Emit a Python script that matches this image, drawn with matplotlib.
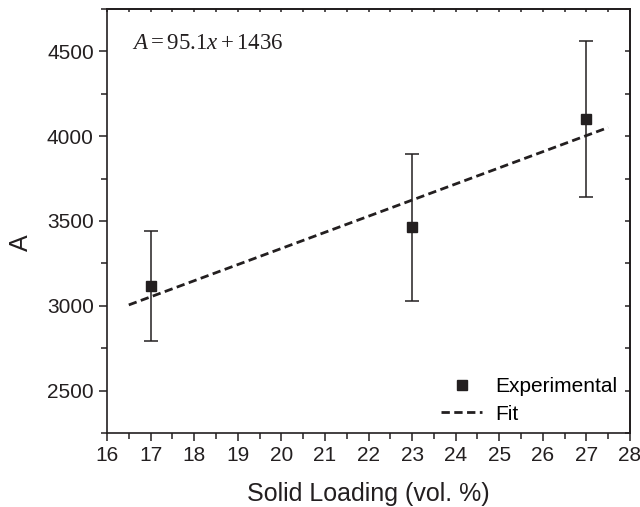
import matplotlib
matplotlib.use("Agg")
import matplotlib.pyplot as plt
import numpy as np
from matplotlib.ticker import MultipleLocator, NullFormatter
from matplotlib.lines import Line2D

plt.rcParams['font.family'] = ['Liberation Sans', 'DejaVu Sans']
plt.rcParams['mathtext.fontset'] = 'custom'
plt.rcParams['mathtext.rm'] = 'Liberation Serif'
plt.rcParams['mathtext.it'] = 'Liberation Serif:italic'

solid_loading = [17, 23, 27]
A_values = [3118, 3462, 4100]
A_errors = [325, 435, 460]
slope = 95.1
intercept = 1436
fit_x_range = [16.5, 27.5]

col = '#231f20'
fig = plt.figure(figsize=(6.4, 5.07), dpi=100)
ax = fig.add_axes([107/640, 1-433/507, 523/640, 424/507])

xf = np.linspace(fit_x_range[0], fit_x_range[1], 50)
ax.plot(xf, slope*xf + intercept, '--', color=col, lw=2, dashes=(3, 1.6), zorder=2)
ax.errorbar(solid_loading, A_values, yerr=A_errors, fmt='s', color=col, ms=7,
            ecolor=col, elinewidth=1.1, capsize=5, capthick=1.1, zorder=3)

ax.set_xlim(16, 28)
ax.set_ylim(2250, 4750)
ax.xaxis.set_major_locator(MultipleLocator(1))
ax.xaxis.set_minor_locator(MultipleLocator(0.5))
ax.yaxis.set_major_locator(MultipleLocator(500))
ax.yaxis.set_minor_locator(MultipleLocator(250))
ax.set_yticks([2500, 3000, 3500, 4000, 4500])
ax.tick_params(which='both', direction='out', labelsize=15,
               colors=col, width=1.1)
ax.tick_params(which='major', length=6)
ax.tick_params(which='minor', length=4)
for s in ax.spines.values():
    s.set_linewidth(1.2)
    s.set_color(col)

# top and right axes: inward ticks, no labels
sx = ax.secondary_xaxis('top')
sx.xaxis.set_major_locator(MultipleLocator(0.5))
sx.xaxis.set_major_formatter(NullFormatter())
sx.tick_params(direction='in', length=2.5, width=1.1, colors=col)
sx.spines['top'].set_linewidth(1.2)
sy = ax.secondary_yaxis('right')
sy.yaxis.set_major_locator(MultipleLocator(250))
sy.yaxis.set_major_formatter(NullFormatter())
sy.tick_params(direction='in', length=3.5, width=1.1, colors=col)
sy.spines['right'].set_linewidth(1.2)

ax.set_xlabel('Solid Loading (vol. %)', fontsize=18, color=col, labelpad=12)
ax.set_ylabel('A', fontsize=18, color=col)
ax.yaxis.set_label_coords(-0.141, (433-243)/424)

ax.text(0.048, 0.922, r'$A = 95.1x + 1436$', transform=ax.transAxes, fontsize=16.5,
        ha='left', va='center', color=col)

handles = [Line2D([], [], marker='s', ls='none', color=col, ms=6.5),
           Line2D([], [], ls='--', color=col, lw=2, dashes=(3, 1.6))]
ax.legend(handles, ['Experimental', 'Fit'], loc='lower right', frameon=False, fontsize=15,
          handlelength=1.95, handletextpad=0.62, borderaxespad=0.3, labelspacing=0.4,
          bbox_to_anchor=(1.003, -0.012))

fig.savefig('out.png', dpi=100)
